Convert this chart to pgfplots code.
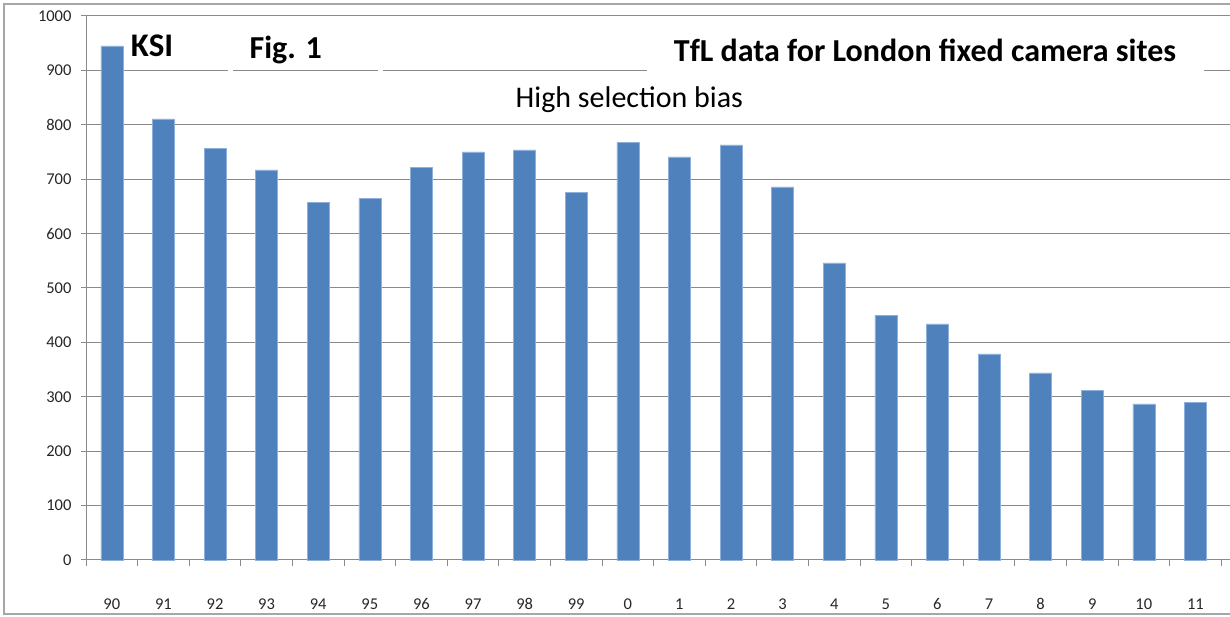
\documentclass[border=0pt]{standalone}
\usepackage{pgfplots}
\pgfplotsset{compat=1.18}
\usepackage{fontspec}
\setmainfont{Carlito}
\definecolor{barblue}{HTML}{4F81BD}
\definecolor{baredge}{HTML}{8EB1DB}
\definecolor{gridgray}{HTML}{8A8A8A}
\definecolor{framegray}{HTML}{A6A6A6}
\begin{document}
\begin{tikzpicture}
\begin{axis}[
  at={(0pt,0pt)}, anchor=south west,
  scale only axis, width=1144pt, height=544pt,
  xmin=-0.5, xmax=21.67, ymin=0, ymax=1000,
  axis lines*=left,
  axis line style={gridgray, line width=1pt},
  xtick={0,...,21},
  xticklabels={90,91,92,93,94,95,96,97,98,99,0,1,2,3,4,5,6,7,8,9,10,11},
  major x tick style={draw=none},
  minor xtick={-0.5,0.5,...,21.5},
  minor tick length=6pt,
  ytick={0,100,...,1000},
  major tick length=5pt,
  tick align=outside,
  tick style={gridgray, line width=1pt},
  ymajorgrids,
  grid style={gridgray, line width=1pt},
  /pgf/number format/assume math mode=true,
  /pgf/number format/1000 sep={},
  tick label style={font=\fontsize{16.5}{18}\selectfont, text=black!85},
  xticklabel style={yshift=-30pt},
  yticklabel style={xshift=-6pt},
  ybar, bar width=22pt,
  clip=false,
]
\addplot[fill=barblue, draw=baredge, line width=0.6pt, bar shift=0pt] coordinates {
(0,945) (1,811) (2,756) (3,717) (4,658) (5,665) (6,722) (7,750) (8,754) (9,676)
(10,767) (11,741) (12,763) (13,686) (14,546) (15,449) (16,434) (17,379) (18,344)
(19,312) (20,287) (21,289)};
\node[fill=white, inner sep=0pt, minimum width=5pt, minimum height=4pt] at (axis cs:2.296,900) {};
\node[fill=white, inner sep=0pt, minimum width=5pt, minimum height=4pt] at (axis cs:5.20,900) {};
\node[font=\bfseries\fontsize{33}{36}\selectfont] at (axis cs:0.78,945) {KSI};
\node[font=\bfseries\fontsize{32}{36}\selectfont] at (axis cs:3.37,937) {Fig. 1};
\node[fill=white, inner sep=0pt, minimum width=557pt, minimum height=48pt, font=\bfseries\fontsize{32}{36}\selectfont] at (axis cs:15.76,937.5) {TfL data for London fixed camera sites};
\node[font=\fontsize{30}{34}\selectfont] at (axis cs:10.03,846) {High selection bias};
\end{axis}
\draw[framegray, line width=1.5pt] (-82pt,-54pt) rectangle (1170pt,556pt);
\pgfresetboundingbox
\path[use as bounding box] (-86pt,-57pt) rectangle (1144pt,560pt);
\end{tikzpicture}
\end{document}
